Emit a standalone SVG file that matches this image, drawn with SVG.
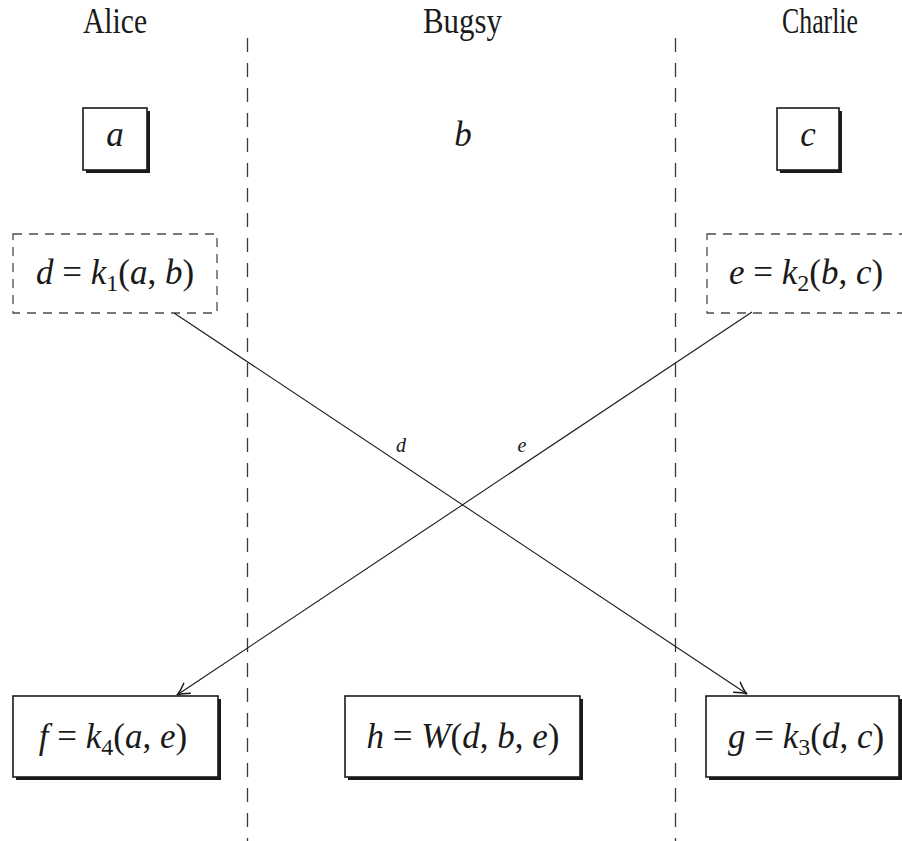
<svg xmlns="http://www.w3.org/2000/svg" width="902" height="841" viewBox="0 0 902 841">
<defs>
<style>
.lbl{font-family:"Liberation Serif",serif;font-size:36px;fill:#1a1a1a}
.m{font-family:"Liberation Serif",serif;font-size:35px;fill:#1a1a1a}
.i{font-style:italic}
.sub{font-size:24px}
.sm{font-family:"Liberation Serif",serif;font-size:20px;font-style:italic;fill:#1a1a1a}
.box{fill:#fff;stroke:#1a1a1a;stroke-width:1.6}
.shadow{fill:#1a1a1a}
.dbox{fill:none;stroke:#4a4a4a;stroke-width:1.3;stroke-dasharray:9 7}
.sep{stroke:#3a3a3a;stroke-width:1.3;stroke-dasharray:14 11;fill:none}
.edge{stroke:#1a1a1a;stroke-width:1.1;fill:none}
</style>
<marker id="arr" markerUnits="userSpaceOnUse" markerWidth="20" markerHeight="20" viewBox="-12 -8 14 16" refX="0" refY="0" orient="auto">
<path d="M-10,-5 Q-4,-1 0,0 Q-4,1 -10,5" fill="none" stroke="#1a1a1a" stroke-width="1.1"/>
</marker>
</defs>
<rect width="902" height="841" fill="#fff"/>

<g id="separators">
<line class="sep" x1="247.5" y1="38" x2="247.5" y2="841"/>
<line class="sep" x1="675.5" y1="38" x2="675.5" y2="841"/>
</g>

<g id="headers">
<text class="lbl" x="83" y="33" textLength="64" lengthAdjust="spacingAndGlyphs">Alice</text>
<text class="lbl" x="423" y="33" textLength="79" lengthAdjust="spacingAndGlyphs">Bugsy</text>
<text class="lbl" x="782" y="33" textLength="76" lengthAdjust="spacingAndGlyphs">Charlie</text>
</g>

<g id="node-a">
<rect class="shadow" x="86" y="111" width="64" height="62"/>
<rect class="box" x="83" y="108" width="64" height="62"/>
<text class="m i" x="115" y="146" text-anchor="middle">a</text>
</g>

<g id="node-b">
<text class="m i" x="463" y="146" text-anchor="middle">b</text>
</g>

<g id="node-c">
<rect class="shadow" x="780" y="111" width="62" height="62"/>
<rect class="box" x="777" y="108" width="62" height="62"/>
<text class="m i" x="808" y="146" text-anchor="middle">c</text>
</g>

<g id="node-d">
<rect class="dbox" x="13" y="234" width="204" height="79"/>
<text class="m" x="115" y="284" text-anchor="middle"><tspan class="i">d</tspan> = <tspan class="i">k</tspan><tspan class="sub" dy="7">1</tspan><tspan dy="-7">(</tspan><tspan class="i">a</tspan>, <tspan class="i">b</tspan>)</text>
</g>

<g id="node-e">
<rect class="dbox" x="707" y="234" width="220" height="79"/>
<text class="m" x="806" y="284" text-anchor="middle"><tspan class="i">e</tspan> = <tspan class="i">k</tspan><tspan class="sub" dy="7">2</tspan><tspan dy="-7">(</tspan><tspan class="i">b</tspan>, <tspan class="i">c</tspan>)</text>
</g>

<g id="node-f">
<rect class="shadow" x="16" y="699" width="205" height="81"/>
<rect class="box" x="13" y="696" width="205" height="81"/>
<text class="m" x="113" y="748" text-anchor="middle"><tspan class="i">f</tspan> = <tspan class="i">k</tspan><tspan class="sub" dy="7">4</tspan><tspan dy="-7">(</tspan><tspan class="i">a</tspan>, <tspan class="i">e</tspan>)</text>
</g>

<g id="node-h">
<rect class="shadow" x="348" y="699" width="235" height="81"/>
<rect class="box" x="345" y="696" width="235" height="81"/>
<text class="m" x="463" y="748" text-anchor="middle"><tspan class="i">h</tspan> = <tspan class="i">W</tspan>(<tspan class="i">d</tspan>, <tspan class="i">b</tspan>, <tspan class="i">e</tspan>)</text>
</g>

<g id="node-g">
<rect class="shadow" x="709" y="699" width="193" height="81"/>
<rect class="box" x="706" y="696" width="193" height="81"/>
<text class="m" x="806" y="748" text-anchor="middle"><tspan class="i">g</tspan> = <tspan class="i">k</tspan><tspan class="sub" dy="7">3</tspan><tspan dy="-7">(</tspan><tspan class="i">d</tspan>, <tspan class="i">c</tspan>)</text>
</g>

<g id="connectors">
<line class="edge" x1="174" y1="313" x2="747" y2="694" marker-end="url(#arr)"/>
<line class="edge" x1="752" y1="312" x2="177" y2="695" marker-end="url(#arr)"/>
<text class="sm" x="401" y="452" text-anchor="middle">d</text>
<text class="sm" x="522" y="452" text-anchor="middle">e</text>
</g>
</svg>
